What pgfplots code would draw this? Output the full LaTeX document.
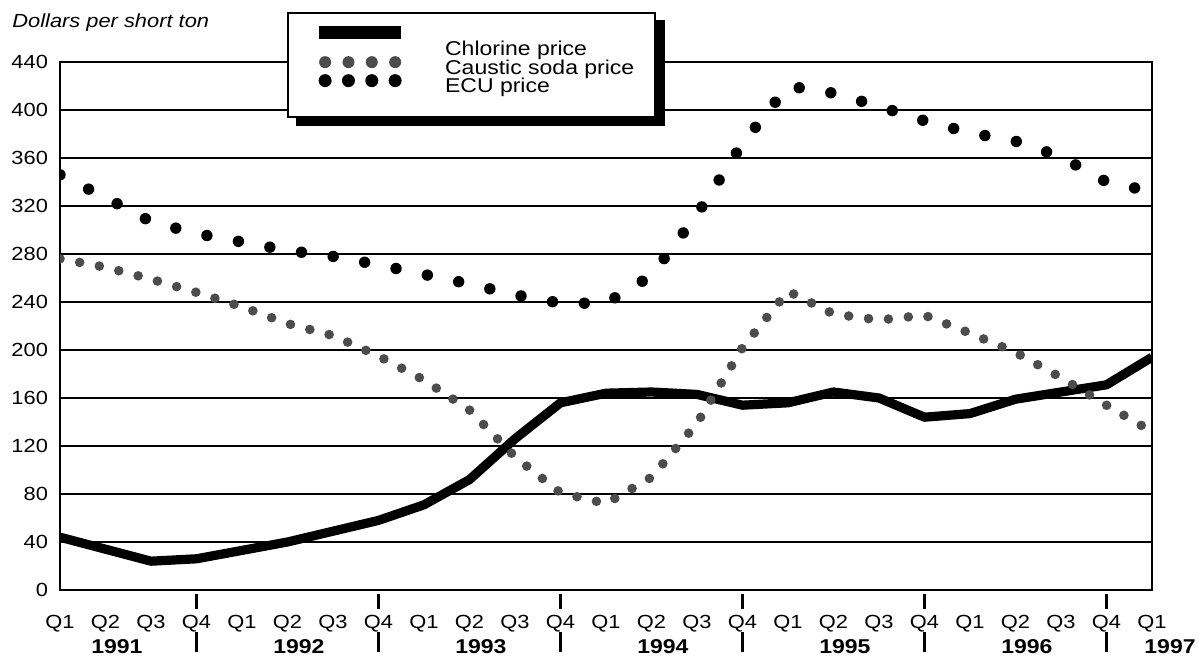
\documentclass[border=0pt]{standalone}
\usepackage{fontspec}
\setmainfont{Liberation Sans}[FakeStretch=1.15]
\usepackage{pgfplots}
\pgfplotsset{compat=1.18}
\definecolor{caustic}{gray}{0.3}
% year separators: one mark under the axis, one between the year labels
\newcommand{\sep}{\raisebox{14.8pt}[0pt][0pt]{\rule{1.1pt}{7.5pt}}\hspace{-1.1pt}\raisebox{-6.7pt}[0pt][0pt]{\rule{1.1pt}{10pt}}}
% reserve room for a legend image without drawing anything
\newcommand{\legroom}{\pgfpathrectangle{\pgfpoint{0pt}{-1pt}}{\pgfpoint{68pt}{2pt}}\pgfusepath{discard}}

\begin{document}
\begin{tikzpicture}
\begin{axis}[
  scale only axis, width=546pt, height=264pt,
  xmin=0, xmax=24, ymin=0, ymax=440,
  axis line style={line width=1.3pt},
  ymajorgrids, major grid style={black, line width=0.9pt},
  ytick={0,40,...,440},
  xtick={0,...,24},
  xticklabels={Q1,Q2,Q3,Q4,Q1,Q2,Q3,Q4,Q1,Q2,Q3,Q4,Q1,Q2,Q3,Q4,Q1,Q2,Q3,Q4,Q1,Q2,Q3,Q4,Q1},
  major tick length=0pt,
  tick align=outside, tick pos=left,
  extra x ticks={1.25,5.25,9.25,13.25,17.25,21.25,24,3,7,11,15,19,23},
  extra x tick labels={\textbf{1991},\textbf{1992},\textbf{1993},\textbf{1994},\textbf{1995},\textbf{1996},\hspace*{18pt}\textbf{1997},\sep,\sep,\sep,\sep,\sep,\sep},
  extra x tick style={major tick length=0pt, xticklabel style={yshift=-12pt, font=\fontsize{10}{12}\selectfont}},
  xticklabel style={yshift=-9pt},
  tick label style={font=\fontsize{9.5}{11}\selectfont},
  yticklabel style={xshift=-2.5pt},
  /pgf/number format/assume math mode=true,
  ylabel={\textit{Dollars per short ton}},
  every axis y label/.style={at={(rel axis cs:0,1)}, anchor=west, inner sep=0pt,
    xshift=-24pt, yshift=19.5pt, font=\fontsize{9.5}{11}\selectfont},
  legend cell align=left,
  legend style={name=leg, at={(0.208,1.0947)}, anchor=north west,
    draw=black, line width=1pt, fill=white,
    inner xsep=10.5pt, inner ysep=12pt, row sep=0pt, column sep=0pt,
    font=\fontsize{10}{12}\selectfont,
    nodes={inner sep=0pt, text height=9.25pt, text depth=0pt}},
]

% chlorine
\addplot[black, line width=4.6pt, line join=round,
  legend image code/.code={\legroom
    \draw[overlay, solid, black, line width=6.5pt] (5pt,6.8pt) -- (46pt,6.8pt);}]
  table {
0 44
1 34
2 24
3 26
4 33
5 40
6 49
7 58
8 71
9 92
10 126
11 156
12 164
13 165
14 163
15 154
16 156
17 165
18 160
19 144
20 147
21 159
22 165
23 171
24 194
};
\addlegendentry{Chlorine price}

% caustic soda
\addplot[caustic, line width=4.8pt, line cap=round, dash pattern=on 0pt off 10pt,
  legend image code/.code={\legroom
    \draw[overlay, caustic, line width=6pt, line cap=round, dash pattern=on 0pt off 11.67pt] (8pt,1.3pt) -- (43.5pt,1.3pt);}]
  table {
0 276
1 269
2 259
3 248
4 236
5 222
6 212
7 195
8 175
9 150
10 111
11 81
12 72
13 94
14 139
15 202
16 249
17 230
18 225
19 229
20 214
21 198
22 177
23 154
24 132
};
\addlegendentry{Caustic soda price}

% ECU
\addplot[black, line width=5.7pt, line cap=round, dash pattern=on 0pt off 16pt,
  legend image code/.code={\legroom
    \draw[overlay, black, line width=6.5pt, line cap=round, dash pattern=on 0pt off 11.67pt] (8pt,1.3pt) -- (43.5pt,1.3pt);}]
  table {
0 346
1 327
2 307
3 297
4 290
5 283
6 278
7 271
8 263
9 255
10 246
11 239
12 239
13 262
14 313
15 372
16 420
17 414
18 403
19 391
20 381
21 374
22 361
23 340
24 332
};
\addlegendentry{ECU price}
\end{axis}
% heavy shadow on the right and lower edges of the legend box
\fill[black] ([yshift=-4pt]leg.north east) rectangle ([xshift=4.5pt, yshift=-4pt]leg.south east);
\fill[black] ([xshift=4.5pt]leg.south west) rectangle ([xshift=4.5pt, yshift=-4pt]leg.south east);
\pgfresetboundingbox
\path ([xshift=-30pt, yshift=-34pt]current axis.south west) rectangle ([xshift=23.5pt, yshift=31pt]current axis.north east);
\end{tikzpicture}
\end{document}
